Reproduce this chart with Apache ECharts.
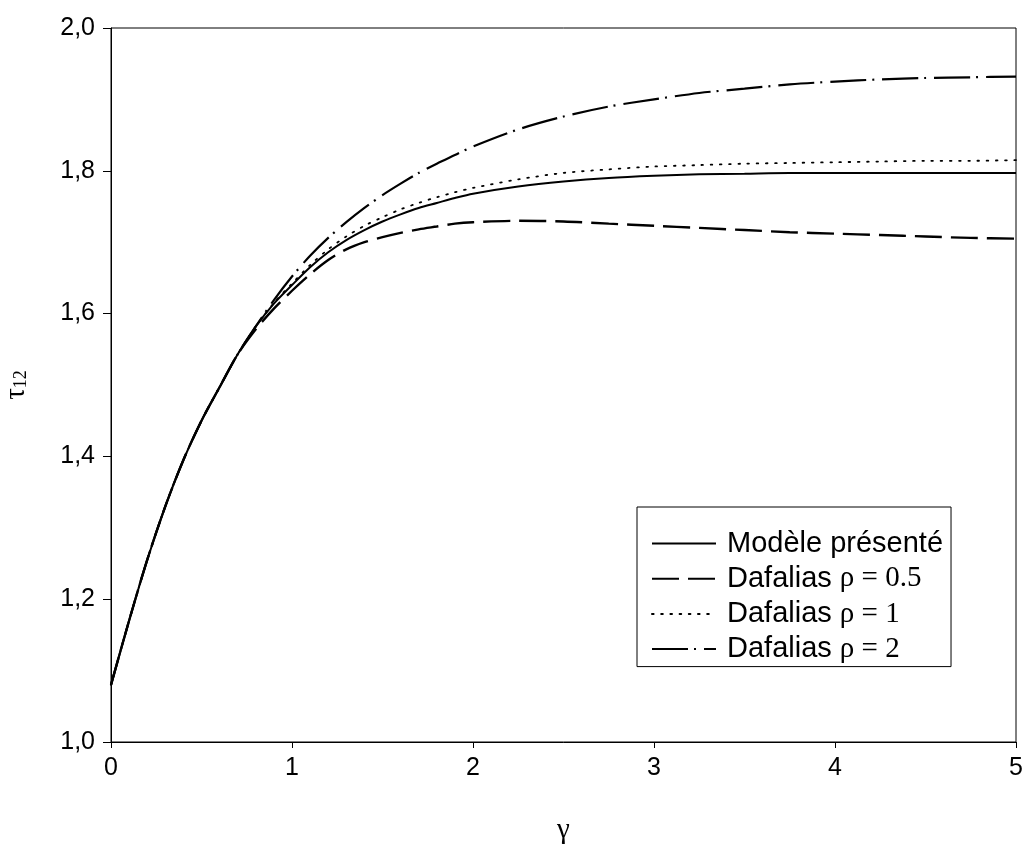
<!DOCTYPE html>
<html>
<head>
<meta charset="utf-8">
<script src="https://cdn.jsdelivr.net/npm/echarts@6/dist/echarts.min.js"></script>
<style>
  html, body { margin: 0; padding: 0; background: #fff; }
  #chart { width: 1024px; height: 849px; }
</style>
</head>
<body>
<div id="chart"></div>
<script>
// Shear strain values (gamma)
const gammas = [0, 0.1, 0.2, 0.3, 0.4, 0.5, 0.6, 0.7, 0.8, 0.9, 1.0,
  1.1, 1.2, 1.3, 1.4, 1.5, 1.6, 1.7, 1.8, 1.9, 2.0,
  2.25, 2.5, 2.75, 3.0, 3.25, 3.5, 3.75, 4.0, 4.25, 4.5, 4.75, 5.0];

// Shear stress tau_12 for each model
const modelePresente = [1.080, 1.170, 1.255, 1.330, 1.395, 1.450, 1.497, 1.543, 1.582, 1.614, 1.640,
  1.665, 1.686, 1.703, 1.717, 1.729, 1.739, 1.748, 1.755, 1.762, 1.768,
  1.778, 1.785, 1.790, 1.793, 1.795, 1.796, 1.797, 1.797, 1.797, 1.797, 1.797, 1.797];
const dafaliasRho05 = [1.080, 1.170, 1.255, 1.330, 1.395, 1.450, 1.497, 1.543, 1.578, 1.607, 1.632,
  1.655, 1.675, 1.690, 1.700, 1.707, 1.713, 1.718, 1.722, 1.726, 1.728,
  1.730, 1.729, 1.726, 1.723, 1.720, 1.717, 1.714, 1.712, 1.710, 1.708, 1.706, 1.705];
const dafaliasRho1 = [1.080, 1.170, 1.255, 1.330, 1.395, 1.450, 1.497, 1.543, 1.582, 1.615, 1.642,
  1.668, 1.690, 1.708, 1.723, 1.735, 1.746, 1.755, 1.763, 1.770, 1.776,
  1.788, 1.797, 1.802, 1.806, 1.808, 1.810, 1.811, 1.812, 1.813, 1.814, 1.814, 1.815];
const dafaliasRho2 = [1.080, 1.170, 1.255, 1.330, 1.395, 1.450, 1.497, 1.543, 1.582, 1.619, 1.652,
  1.681, 1.706, 1.728, 1.748, 1.766, 1.782, 1.797, 1.810, 1.822, 1.834,
  1.858, 1.876, 1.890, 1.900, 1.909, 1.915, 1.921, 1.925, 1.928, 1.930, 1.931, 1.932];

const seriesNames = ['Modèle présenté', 'Dafalias ρ = 0.5', 'Dafalias ρ = 1', 'Dafalias ρ = 2'];
const xTickLabels = ['0', '1', '2', '3', '4', '5'];
const yTickLabels = ['1,0', '1,2', '1,4', '1,6', '1,8', '2,0'];

const pairs = vals => gammas.map((g, i) => [g, vals[i]]);

const lineStyles = [
  { type: 'solid', width: 2 },
  { type: [27, 9], width: 2.4 },
  { type: [1.6, 7.6], width: 1.8, cap: 'round' },
  { type: [36, 6, 2, 8], width: 2.2 }
];
const dataSets = [modelePresente, dafaliasRho05, dafaliasRho1, dafaliasRho2];

const sansFont = 'Liberation Sans, Arial, sans-serif';
const serifFont = 'Liberation Serif, DejaVu Serif, serif';

const chart = echarts.init(document.getElementById('chart'), null, { renderer: 'canvas' });

chart.setOption({
  backgroundColor: '#ffffff',
  animation: false,
  grid: {
    left: 111, right: 8, top: 28, bottom: 107,
    outerBoundsMode: 'none',
    containLabel: false,
    show: true, borderColor: '#000', borderWidth: 1
  },
  xAxis: {
    type: 'value', min: 0, max: 5, interval: 1,
    name: 'γ', nameLocation: 'middle', nameGap: 74,
    nameTextStyle: { fontFamily: serifFont, fontSize: 29, color: '#000' },
    axisLine: { lineStyle: { color: '#000', width: 1 } },
    axisTick: { show: true, inside: false, length: 6, lineStyle: { color: '#000' } },
    splitLine: { show: false },
    axisLabel: {
      margin: 14, color: '#000', fontSize: 25, fontFamily: sansFont,
      formatter: v => xTickLabels[Math.round(v)]
    }
  },
  yAxis: {
    type: 'value', min: 1, max: 2, interval: 0.2,
    name: '{t|τ}{s|12}', nameLocation: 'middle', nameGap: 80, nameRotate: 90,
    nameTextStyle: {
      color: '#000',
      rich: {
        t: { fontFamily: serifFont, fontSize: 29, color: '#000' },
        s: { fontFamily: serifFont, fontSize: 18, color: '#000', padding: [10, 0, 0, 0] }
      }
    },
    axisLine: { show: true, lineStyle: { color: '#000', width: 1 } },
    axisTick: { show: true, inside: false, length: 8, lineStyle: { color: '#000' } },
    splitLine: { show: false },
    axisLabel: {
      margin: 16, color: '#000', fontSize: 25, fontFamily: sansFont,
      formatter: v => yTickLabels[Math.round((v - 1) / 0.2)]
    }
  },
  legend: {
    orient: 'vertical',
    left: 637, top: 507,
    backgroundColor: '#fff',
    borderColor: '#000', borderWidth: 1,
    padding: [22, 8, 3, 14],
    itemWidth: 64, itemHeight: 14, itemGap: 6.2,
    selectedMode: false,
    itemStyle: { opacity: 0 },
    data: seriesNames,
    formatter: name => {
      const k = name.indexOf('ρ');
      if (k < 0) return '{a|' + name + '}';
      return '{a|' + name.slice(0, k) + '}{b|' + name.slice(k) + '}';
    },
    textStyle: {
      color: '#000',
      rich: {
        a: { fontFamily: 'Liberation Sans Narrow, Arial Narrow, Liberation Sans, sans-serif', fontSize: 29, color: '#000', lineHeight: 26, padding: [0, 0, 0, 6] },
        b: { fontFamily: serifFont, fontSize: 29, color: '#000', lineHeight: 26 }
      }
    }
  },
  series: dataSets.map((vals, i) => ({
    name: seriesNames[i],
    type: 'line',
    data: pairs(vals),
    smooth: 0.3,
    symbol: 'none',
    showSymbol: false,
    z: 3,
    itemStyle: { color: '#000' },
    lineStyle: Object.assign({ color: '#000' }, lineStyles[i])
  }))
});
</script>
</body>
</html>
